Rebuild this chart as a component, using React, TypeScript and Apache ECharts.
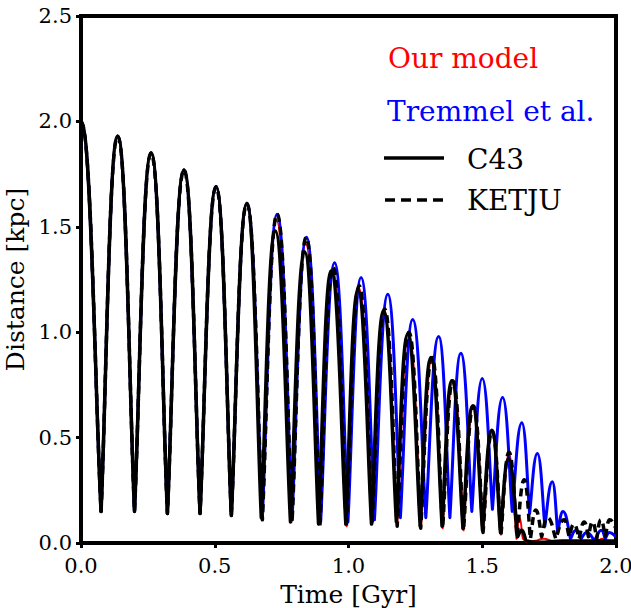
import React, { useEffect, useRef } from "react";
import * as echarts from "echarts";

const FONT = "DejaVu Serif";

// C43 (black solid)
const c43Time = [0, 0.075, 0.137, 0.2, 0.262, 0.323, 0.385, 0.445, 0.505, 0.562, 0.62, 0.674, 0.726, 0.783, 0.836, 0.888, 0.935, 0.99, 1.035, 1.086, 1.131, 1.179, 1.221, 1.268, 1.308, 1.35, 1.386, 1.428, 1.464, 1.501, 1.536, 1.568, 1.598, 1.632, 1.648, 1.665, 1.8, 2.0];
const c43Dist = [2.0, 0.15, 1.93, 0.15, 1.85, 0.14, 1.77, 0.14, 1.69, 0.13, 1.61, 0.12, 1.48, 0.1, 1.38, 0.09, 1.29, 0.09, 1.2, 0.09, 1.1, 0.1, 0.99, 0.08, 0.88, 0.08, 0.77, 0.07, 0.65, 0.06, 0.535, 0.05, 0.4, 0.03, 0.06, 0.01, 0.01, 0.01];

// Tremmel et al. (blue)
const tremmelTime = [0, 0.075, 0.137, 0.2, 0.262, 0.323, 0.385, 0.445, 0.505, 0.562, 0.62, 0.678, 0.733, 0.789, 0.843, 0.896, 0.948, 0.998, 1.047, 1.097, 1.147, 1.194, 1.24, 1.289, 1.337, 1.379, 1.42, 1.461, 1.5, 1.538, 1.576, 1.612, 1.648, 1.677, 1.706, 1.734, 1.762, 1.782, 1.802, 1.83, 1.85, 1.87, 1.89, 1.92, 1.945, 1.96, 1.975, 2.0];
const tremmelDist = [2.0, 0.15, 1.93, 0.15, 1.85, 0.14, 1.77, 0.14, 1.69, 0.13, 1.61, 0.12, 1.56, 0.11, 1.45, 0.1, 1.33, 0.1, 1.26, 0.11, 1.18, 0.12, 1.06, 0.12, 0.98, 0.12, 0.9, 0.15, 0.78, 0.16, 0.69, 0.15, 0.57, 0.14, 0.425, 0.08, 0.29, 0.05, 0.15, 0.02, 0.06, 0.02, 0.05, 0.01, 0.06, 0.02, 0.05, 0.03];

// Our model (red)
const modelTime = [0, 0.075, 0.137, 0.2, 0.262, 0.323, 0.385, 0.445, 0.505, 0.562, 0.62, 0.677, 0.731, 0.787, 0.84, 0.892, 0.941, 0.993, 1.039, 1.089, 1.134, 1.182, 1.225, 1.271, 1.312, 1.352, 1.39, 1.43, 1.467, 1.503, 1.538, 1.57, 1.6, 1.628, 1.64, 1.652, 1.7, 1.73, 1.76, 1.93, 1.95, 1.97, 2.0];
const modelDist = [2.0, 0.15, 1.93, 0.15, 1.85, 0.14, 1.77, 0.14, 1.69, 0.13, 1.61, 0.12, 1.53, 0.1, 1.42, 0.09, 1.3, 0.08, 1.21, 0.09, 1.1, 0.08, 1.0, 0.07, 0.88, 0.07, 0.77, 0.06, 0.65, 0.05, 0.53, 0.04, 0.42, 0.02, 0.12, 0.02, 0.01, 0.02, 0.01, 0.01, 0.02, 0.01, 0.01];

// KETJU (black dashed)
const ketjuTime = [0, 0.075, 0.137, 0.2, 0.262, 0.323, 0.385, 0.445, 0.505, 0.562, 0.62, 0.678, 0.733, 0.789, 0.842, 0.893, 0.942, 0.992, 1.04, 1.088, 1.135, 1.182, 1.226, 1.27, 1.312, 1.352, 1.39, 1.43, 1.467, 1.503, 1.537, 1.57, 1.6, 1.63, 1.657, 1.68, 1.7, 1.722, 1.744, 1.775, 1.806, 1.825, 1.843, 1.862, 1.881, 1.897, 1.912, 1.928, 1.943, 1.96, 1.976, 2.0];
const ketjuDist = [2.0, 0.15, 1.93, 0.15, 1.85, 0.14, 1.77, 0.14, 1.69, 0.13, 1.61, 0.11, 1.56, 0.1, 1.45, 0.08, 1.31, 0.08, 1.22, 0.09, 1.11, 0.08, 1.0, 0.07, 0.88, 0.07, 0.77, 0.06, 0.65, 0.05, 0.53, 0.04, 0.43, 0.03, 0.3, 0.02, 0.156, 0.03, 0.12, 0.02, 0.11, 0.03, 0.09, 0.02, 0.1, 0.03, 0.1, 0.02, 0.11, 0.03, 0.11, 0.07];

const xTickLabels = ["0.0", "0.5", "1.0", "1.5", "2.0"];
const yTickLabels = ["0.0", "0.5", "1.0", "1.5", "2.0", "2.5"];

const legendEntries = ["Our model", "Tremmel et al.", "C43", "KETJU"];

const pairs = (t: number[], d: number[]) => t.map((v, i) => [v, d[i]]);

// Builds an orbit-like path: rounded apocentres, sharp pericentres.
function buildPath(pts: number[][], vals: number[]): string {
  const n = pts.length;
  const kind = vals.map((v, i) => {
    const hp = i === 0 || v > vals[i - 1];
    const hn = i === n - 1 || v > vals[i + 1];
    const lp = i > 0 && v < vals[i - 1];
    const ln = i < n - 1 && v < vals[i + 1];
    if (hp && hn) return "peak";
    if (lp && ln) return "trough";
    return "other";
  });
  const kPeak = 0.5;
  const sTrough = 0.3;
  const kOther = 0.35;
  const outHandle = (i: number): number[] => {
    const p = pts[i];
    const q = pts[i + 1];
    const dx = q[0] - p[0];
    if (kind[i] === "peak") return [p[0] + kPeak * dx, p[1]];
    if (kind[i] === "trough") return [p[0] + sTrough * (q[0] - p[0]), p[1] + sTrough * (q[1] - p[1])];
    const a = pts[i - 1] || p;
    const m = (q[1] - a[1]) / (q[0] - a[0] || 1);
    return [p[0] + kOther * dx, p[1] + kOther * dx * m];
  };
  const inHandle = (i: number): number[] => {
    const p = pts[i];
    const a = pts[i - 1];
    const dx = p[0] - a[0];
    if (kind[i] === "peak") return [p[0] - kPeak * dx, p[1]];
    if (kind[i] === "trough") return [p[0] + sTrough * (a[0] - p[0]), p[1] + sTrough * (a[1] - p[1])];
    const q = pts[i + 1] || p;
    const m = (q[1] - a[1]) / (q[0] - a[0] || 1);
    return [p[0] - kOther * dx, p[1] - kOther * dx * m];
  };
  let d = `M${pts[0][0]} ${pts[0][1]}`;
  for (let i = 0; i < n - 1; i++) {
    const c1 = outHandle(i);
    const c2 = inHandle(i + 1);
    const e = pts[i + 1];
    d += ` C${c1[0]} ${c1[1]} ${c2[0]} ${c2[1]} ${e[0]} ${e[1]}`;
  }
  return d;
}

function curveSeries(name: string, time: number[], dist: number[], stroke: string, width: number, dash?: number[]) {
  return {
    name,
    type: "custom",
    clip: true,
    silent: true,
    data: pairs(time, dist),
    encode: { x: 0, y: 1 },
    renderItem: (params: any, api: any) => {
      if (params.dataIndex !== 0) return null;
      const pts = time.map((t, i) => api.coord([t, dist[i]]));
      return {
        type: "path",
        shape: { pathData: buildPath(pts, dist) },
        style: { fill: "none", stroke, lineWidth: width, lineDash: dash || null, lineJoin: "round", lineCap: "butt" },
      };
    },
  };
}

export default function App() {
  const ref = useRef<HTMLDivElement>(null);
  useEffect(() => {
    if (!ref.current) return;
    const chart = echarts.init(ref.current, undefined, { renderer: "svg" });
    chart.setOption({
      animation: false,
      backgroundColor: "#ffffff",
      grid: { left: 81, right: 15, top: 16, bottom: 65, outerBoundsMode: "none", containLabel: false, show: true, borderColor: "#000", borderWidth: 4, backgroundColor: "transparent" },
      xAxis: {
        type: "value",
        min: 0,
        max: 2,
        interval: 0.5,
        name: "Time [Gyr]",
        nameLocation: "middle",
        nameGap: 39,
        nameTextStyle: { fontFamily: FONT, fontSize: 25, color: "#000" },
        axisLine: { show: true, onZero: false, lineStyle: { color: "#000", width: 4 } },
        axisTick: { show: true, inside: false, length: 5, lineStyle: { color: "#000", width: 3 } },
        axisLabel: { fontFamily: FONT, fontSize: 21, color: "#000", margin: 12, formatter: (v: number) => xTickLabels[Math.round(v / 0.5)] },
        splitLine: { show: false },
      },
      yAxis: {
        type: "value",
        min: 0,
        max: 2.5,
        interval: 0.5,
        name: "Distance [kpc]",
        nameLocation: "middle",
        nameGap: 52,
        nameTextStyle: { fontFamily: FONT, fontSize: 25, color: "#000" },
        axisLine: { show: true, onZero: false, lineStyle: { color: "#000", width: 4 } },
        axisTick: { show: true, inside: false, length: 5, lineStyle: { color: "#000", width: 3 } },
        axisLabel: { fontFamily: FONT, fontSize: 21, color: "#000", margin: 9, formatter: (v: number) => yTickLabels[Math.round(v / 0.5)] },
        splitLine: { show: false },
      },
      series: [
        curveSeries("Our model", modelTime, modelDist, "#ff0000", 2),
        curveSeries("Tremmel et al.", tremmelTime, tremmelDist, "#0000ff", 3),
        curveSeries("C43", c43Time, c43Dist, "#000000", 3.5),
        curveSeries("KETJU", ketjuTime, ketjuDist, "#000000", 3.5, [8, 5]),
      ],
      graphic: [
        { type: "text", x: 388, y: 58, style: { text: legendEntries[0], fill: "#ff0000", fontFamily: FONT, fontSize: 28, verticalAlign: "middle" } },
        { type: "text", x: 387, y: 111, style: { text: legendEntries[1], fill: "#0000ff", fontFamily: FONT, fontSize: 28, verticalAlign: "middle" } },
        { type: "line", shape: { x1: 384, y1: 158, x2: 444, y2: 158 }, style: { stroke: "#000", lineWidth: 3.5 } },
        { type: "text", x: 467, y: 159, style: { text: legendEntries[2], fill: "#000", fontFamily: FONT, fontSize: 28, verticalAlign: "middle" } },
        { type: "line", shape: { x1: 385, y1: 200, x2: 444, y2: 200 }, style: { stroke: "#000", lineWidth: 3.5, lineDash: [10, 6] } },
        { type: "text", x: 467, y: 200, style: { text: legendEntries[3], fill: "#000", fontFamily: FONT, fontSize: 28, verticalAlign: "middle" } },
      ],
    });
    return () => chart.dispose();
  }, []);
  return <div ref={ref} style={{ position: "fixed", left: 0, top: 0, width: 631, height: 608, background: "#fff" }} />;
}
